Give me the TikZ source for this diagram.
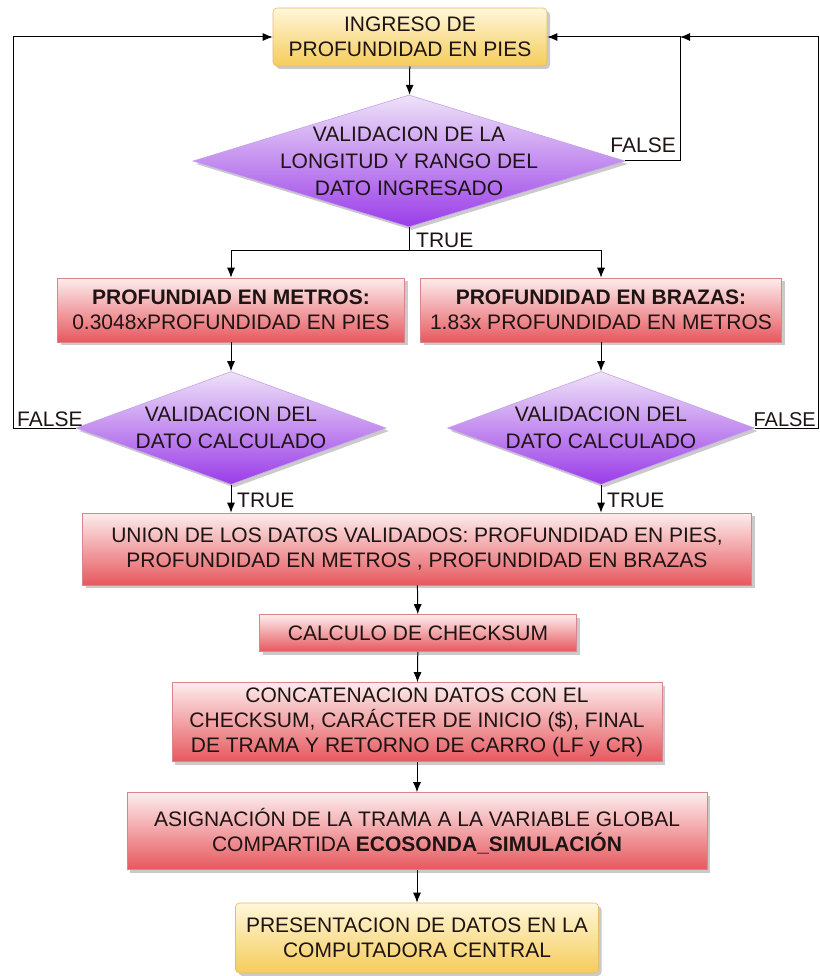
\documentclass[tikz,border=0pt]{standalone}
\usepackage{fontspec}
\setmainfont{Liberation Sans}
\usetikzlibrary{shapes.geometric,shadows,arrows.meta}
\definecolor{ytop}{HTML}{FFF7D9}
\definecolor{ybot}{HTML}{F5CC5C}
\definecolor{ydraw}{HTML}{E2BE6A}
\definecolor{rtop}{HTML}{FDEDED}
\definecolor{rbot}{HTML}{E6585E}
\definecolor{rdraw}{HTML}{D8868A}
\definecolor{ptop}{HTML}{EEE2F8}
\definecolor{pbot}{HTML}{9A3CE8}
\definecolor{pdraw}{HTML}{C4A2EC}
\definecolor{txt}{HTML}{1E1414}
\begin{document}
\begin{tikzpicture}[x=1pt,y=-1pt,
  font=\fontsize{21}{25}\selectfont,
  shd/.style={drop shadow={opacity=0.35,shadow xshift=3pt,shadow yshift=-3pt,fill=black!60}},
  ybox/.style={shape=rectangle,rounded corners=4pt,top color=ytop,bottom color=ybot,draw=ydraw,line width=0.6pt,align=center,text=txt,inner sep=0pt,shd},
  rbox/.style={shape=rectangle,top color=rtop,bottom color=rbot,draw=rdraw,line width=0.6pt,align=center,text=txt,inner sep=0pt,shd},
  dbox/.style={shape=diamond,top color=ptop,bottom color=pbot,draw=pdraw,line width=0.6pt,inner sep=0pt,shd},
  dtext/.style={align=center,text=txt,font=\fontsize{21}{27}\selectfont},
  arr/.style={-{Latex[length=10pt,width=8pt]},line width=1pt,black},
  ln/.style={line width=1pt,black},
  lbl/.style={text=txt,inner sep=1pt}]
\useasboundingbox (0,0) rectangle (819,976);

% nodes
\node[ybox,minimum width=274pt,minimum height=58pt] (top) at (410,37) {INGRESO DE\\PROFUNDIDAD EN PIES};
\node[dbox,minimum width=432pt,minimum height=132pt] (d1) at (409,161) {};
\node[dtext] (d1t) at (409,161) {VALIDACION DE LA\\LONGITUD Y RANGO DEL\\DATO INGRESADO};
\node[rbox,minimum width=347pt,minimum height=64pt] (m) at (231,310) {\textbf{PROFUNDIAD EN METROS:}\\0.3048xPROFUNDIDAD EN PIES};
\node[rbox,minimum width=361pt,minimum height=64pt] (b) at (601,310) {\textbf{PROFUNDIDAD EN BRAZAS:}\\1.83x PROFUNDIDAD EN METROS};
\node[dbox,minimum width=310pt,minimum height=113pt] (dm) at (231,428) {};
\node[dtext] (dmt) at (231,428) {VALIDACION DEL\\DATO CALCULADO};
\node[dbox,minimum width=307pt,minimum height=113pt] (db) at (601,428) {};
\node[dtext] (dbt) at (601,428) {VALIDACION DEL\\DATO CALCULADO};
\node[rbox,minimum width=669pt,minimum height=72pt] (u) at (417,549) {UNION DE LOS DATOS VALIDADOS: PROFUNDIDAD EN PIES,\\PROFUNDIDAD EN METROS , PROFUNDIDAD EN BRAZAS};
\node[rbox,minimum width=317pt,minimum height=37pt] (c) at (418,633) {CALCULO DE CHECKSUM};
\node[rbox,minimum width=490pt,minimum height=79pt] (cc) at (417,722) {CONCATENACION DATOS CON EL\\CHECKSUM, CARÁCTER DE INICIO (\$), FINAL\\DE TRAMA Y RETORNO DE CARRO (LF y CR)};
\node[rbox,minimum width=580pt,minimum height=77pt] (a) at (417,831) {ASIGNACIÓN DE LA TRAMA A LA VARIABLE GLOBAL\\COMPARTIDA \textbf{ECOSONDA\_SIMULACIÓN}};
\node[ybox,minimum width=363pt,minimum height=70pt] (p) at (417,938) {PRESENTACION DE DATOS EN LA\\COMPUTADORA CENTRAL};

% helper coordinates
\coordinate (r1) at (680,37);
\coordinate (lx) at (13,37);
\coordinate (rx) at (818,37);
\coordinate (tj) at (409,250);

% connectors
\draw[arr] (top) -- (d1);
\draw[arr] (d1.east) -| (r1) -- (top.east);
\node[lbl,anchor=east] (f1) at (677,145) {FALSE};
\draw[ln] (d1.south) -- (tj);
\draw[arr] (tj) -| (m.north);
\draw[arr] (tj) -| (b.north);
\node[lbl,anchor=west] (t1) at (415,240) {TRUE};
\draw[arr] (m) -- (dm);
\draw[arr] (b) -- (db);
\draw[arr] (dm.west) -| (lx) -- (top.west);
\node[lbl,anchor=south west] (f2) at (16,428) {FALSE};
\draw[arr] (db.east) -| (rx) -- (r1);
\node[lbl,anchor=south east,font=\fontsize{20}{24}\selectfont] (f3) at (817,428) {FALSE};
\draw[arr] (dm.south) -- (dm.south |- u.north);
\draw[arr] (db.south) -- (db.south |- u.north);
\node[lbl,anchor=west] (t2) at (236,500) {TRUE};
\node[lbl,anchor=west] (t3) at (606,500) {TRUE};
\draw[arr] (u) -- (c);
\draw[arr] (c) -- (cc);
\draw[arr] (cc) -- (a);
\draw[arr] (a) -- (p);
\end{tikzpicture}
\end{document}
